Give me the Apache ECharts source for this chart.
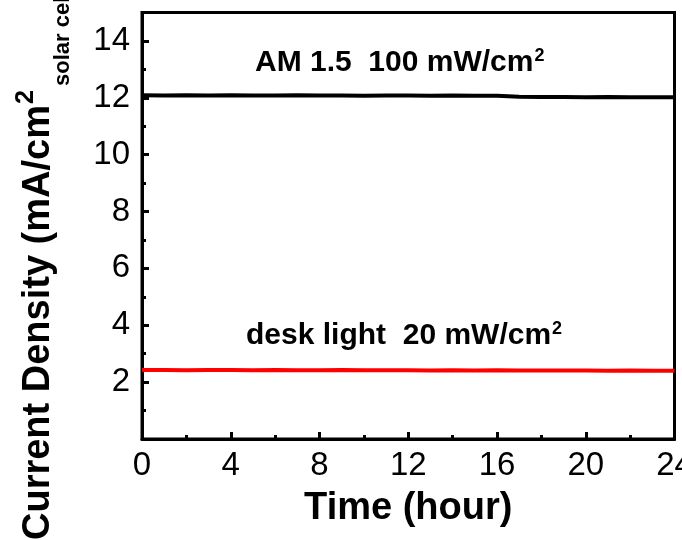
<!DOCTYPE html>
<html>
<head>
<meta charset="utf-8">
<script src="https://cdn.jsdelivr.net/npm/echarts@6/dist/echarts.min.js"></script>
<style>
html,body{margin:0;padding:0;background:#fff;}
#chart{width:682px;height:540px;}
</style>
</head>
<body>
<div id="chart"></div>
<script>
// ---- data ----
const hours = [0,1,2,3,4,5,6,7,8,9,10,11,12,13,14,15,16,17,18,19,20,21,22,23,24];
const am15 = [12.09,12.08,12.09,12.08,12.09,12.08,12.08,12.09,12.08,12.08,12.07,12.08,12.08,12.07,12.08,12.07,12.07,12.04,12.03,12.03,12.02,12.03,12.02,12.02,12.02];
const deskLight = [2.43,2.43,2.42,2.43,2.43,2.42,2.43,2.42,2.42,2.43,2.42,2.42,2.42,2.41,2.42,2.41,2.42,2.41,2.41,2.41,2.41,2.40,2.41,2.40,2.40];
const xTicks = [0,4,8,12,16,20,24];
const yTicks = [2,4,6,8,10,12,14];
const labelAM = 'AM 1.5  100 mW/cm';
const labelDesk = 'desk light  20 mW/cm';
const yTitle = 'Current Density (mA/cm';
const yTitleSub = 'solar cell';
const xTitle = 'Time (hour)';

const FONT = "'Liberation Sans', Arial, sans-serif";
const mc = document.createElement('canvas').getContext('2d');
function tw(txt, size, bold){ mc.font = (bold?'bold ':'') + size + "px 'Liberation Sans', Arial, sans-serif"; return mc.measureText(txt).width; }

const chart = echarts.init(document.getElementById('chart'), null, {renderer:'canvas'});

const amData = hours.map((h,i)=>[h, am15[i]]);
const deskData = hours.map((h,i)=>[h, deskLight[i]]);

// annotation positions
const amX = 255, amY = 63;
const dkX = 246, dkY = 336;
const amW = tw(labelAM, 30, true), dkW = tw(labelDesk, 30, true);
const ytStart = 540, ytW = tw(yTitle, 38, true);
const supY = ytStart - ytW - 1;

const option = {
  animation:false,
  backgroundColor:'#fff',
  grid:{left:142, right:7.5, top:12.5, bottom:101, containLabel:false, outerBoundsMode:'none',
        show:true, borderColor:'#000', borderWidth:3, backgroundColor:'transparent'},
  xAxis:{
    type:'value', min:0, max:24, interval:4,
    name:xTitle, nameLocation:'middle', nameGap:70,
    nameTextStyle:{fontFamily:FONT, fontWeight:'bold', fontSize:38, color:'#000', verticalAlign:'middle', lineHeight:38},
    axisLine:{show:true, lineStyle:{color:'#000', width:3}},
    axisTick:{show:true, inside:true, length:7, lineStyle:{color:'#000', width:3}},
    minorTick:{show:true, splitNumber:2, length:4, lineStyle:{color:'#000', width:3}},
    axisLabel:{fontFamily:FONT, fontSize:33, color:'#000', margin:10,
      formatter:v=> xTicks.indexOf(v)>=0 ? String(v) : ''},
    splitLine:{show:false}
  },
  yAxis:[{
    type:'value', min:0, max:15, interval:2,
    axisLine:{show:true, lineStyle:{color:'#000', width:3}},
    axisTick:{show:true, inside:true, length:7, lineStyle:{color:'#000', width:3}},
    axisLabel:{fontFamily:FONT, fontSize:33, color:'#000', margin:12,
      formatter:v=> yTicks.indexOf(v)>=0 ? String(v) : ''},
    splitLine:{show:false}
  },{
    type:'value', min:0, max:15, interval:1, position:'left',
    axisLine:{show:false},
    axisTick:{show:true, inside:true, length:4, lineStyle:{color:'#000', width:3}},
    axisLabel:{show:false},
    splitLine:{show:false}
  }],
  series:[
    {type:'line', data:amData, showSymbol:false, lineStyle:{color:'#000', width:4}, itemStyle:{color:'#000'}, z:3},
    {type:'line', data:deskData, showSymbol:false, lineStyle:{color:'#ff0000', width:4}, itemStyle:{color:'#ff0000'}, z:3}
  ],
  graphic:[
    {type:'text', x:amX, y:amY, z:10, style:{text:labelAM, font:"bold 30px "+FONT, fill:'#000', textAlign:'left', textVerticalAlign:'middle', align:'left', verticalAlign:'middle'}},
    {type:'text', x:amX+amW+1, y:amY-7, z:10, style:{text:'2', font:"bold 18px "+FONT, fill:'#000', textAlign:'left', textVerticalAlign:'middle', align:'left', verticalAlign:'middle'}},
    {type:'text', x:dkX, y:dkY, z:10, style:{text:labelDesk, font:"bold 30px "+FONT, fill:'#000', textAlign:'left', textVerticalAlign:'middle', align:'left', verticalAlign:'middle'}},
    {type:'text', x:dkX+dkW+1, y:dkY-7, z:10, style:{text:'2', font:"bold 18px "+FONT, fill:'#000', textAlign:'left', textVerticalAlign:'middle', align:'left', verticalAlign:'middle'}},
    {type:'text', x:39, y:ytStart, rotation:Math.PI/2, z:10, style:{text:yTitle, font:"bold 38px "+FONT, fill:'#000', textAlign:'left', textVerticalAlign:'middle', align:'left', verticalAlign:'middle'}},
    {type:'text', x:26.5, y:supY, rotation:Math.PI/2, z:10, style:{text:'2', font:"bold 25px "+FONT, fill:'#000', textAlign:'left', textVerticalAlign:'middle', align:'left', verticalAlign:'middle'}},
    {type:'text', x:63, y:supY-18, rotation:Math.PI/2, z:10, style:{text:yTitleSub, font:"bold 22px "+FONT, fill:'#000', textAlign:'left', textVerticalAlign:'middle', align:'left', verticalAlign:'middle'}}
  ]
};
chart.setOption(option);
</script>
</body>
</html>
